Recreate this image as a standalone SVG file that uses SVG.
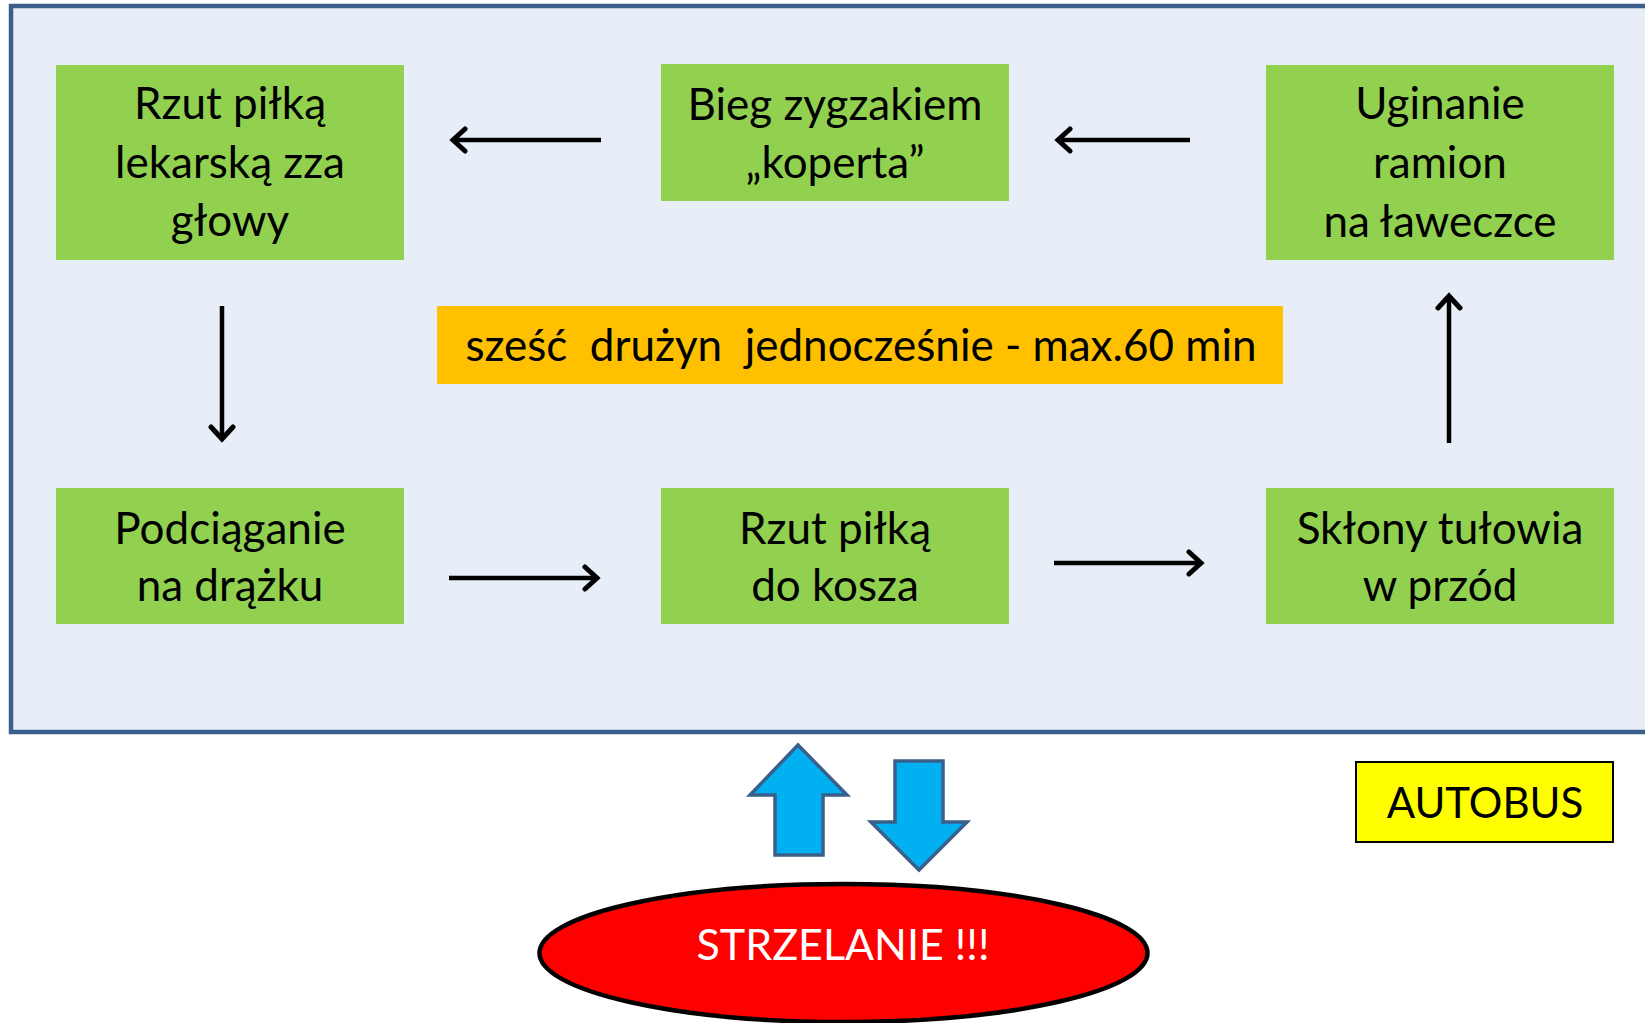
<svg xmlns="http://www.w3.org/2000/svg" width="1645" height="1023" viewBox="0 0 1645 1023">
<defs>
<style>
.box{fill:#92D050}
.t{font-family:Lato,"Liberation Sans",sans-serif;font-size:44px;fill:#000;text-anchor:middle}
.conn{stroke:#000;stroke-width:4.5;fill:none;marker-end:url(#ah)}
.blk{fill:#00B0F0;stroke:#3A5F8B;stroke-width:3.5;stroke-linejoin:miter}
</style>
<marker id="ah" markerWidth="34" markerHeight="34" refX="20" refY="14" orient="auto" markerUnits="userSpaceOnUse">
<path d="M8,3 L20,14 L8,25" fill="none" stroke="#000" stroke-width="5" stroke-linecap="round"/>
</marker>
</defs>
<rect width="1645" height="1023" fill="#fff"/>
<g id="frame">
<rect x="11" y="6" width="1660" height="726" fill="#E8EEF7" stroke="#3B5E8C" stroke-width="4.5"/>
</g>
<g id="n1">
<rect class="box" x="56" y="65" width="348" height="195"/>
<text class="t" x="230" y="119">Rzut piłką</text>
<text class="t" x="230" y="178">lekarską zza</text>
<text class="t" x="230" y="236">głowy</text>
</g>
<g id="n2">
<rect class="box" x="661" y="64" width="348" height="137"/>
<text class="t" x="835" y="120">Bieg zygzakiem</text>
<text class="t" x="835" y="178">„koperta”</text>
</g>
<g id="n3">
<rect class="box" x="1266" y="65" width="348" height="195"/>
<text class="t" x="1440" y="119">Uginanie</text>
<text class="t" x="1440" y="178">ramion</text>
<text class="t" x="1440" y="237">na ławeczce</text>
</g>
<g id="n4">
<rect class="box" x="56" y="488" width="348" height="136"/>
<text class="t" x="230" y="544">Podciąganie</text>
<text class="t" x="230" y="601">na drążku</text>
</g>
<g id="n5">
<rect class="box" x="661" y="488" width="348" height="136"/>
<text class="t" x="835" y="544">Rzut piłką</text>
<text class="t" x="835" y="601">do kosza</text>
</g>
<g id="n6">
<rect class="box" x="1266" y="488" width="348" height="136"/>
<text class="t" x="1440" y="544">Skłony tułowia</text>
<text class="t" x="1440" y="601">w przód</text>
</g>
<g id="banner">
<rect x="437" y="306" width="846" height="78" fill="#FFC000"/>
<text class="t" x="861" y="361" xml:space="preserve">sześć  drużyn  jednocześnie - max.60 min</text>
</g>
<g id="connectors">
<path class="conn" d="M601,140 L453,140"/>
<path class="conn" d="M1190,140 L1058,140"/>
<path class="conn" d="M222,306 L222,439"/>
<path class="conn" d="M449,578 L597,578"/>
<path class="conn" d="M1054,563 L1201,563"/>
<path class="conn" d="M1449,443 L1449,296"/>
<polygon class="blk" points="798,745 847,795 823,795 823,855 775,855 775,795 750,795"/>
<polygon class="blk" points="895,761 943,761 943,822 967,822 919,870 871,822 895,822"/>
</g>
<g id="autobus">
<rect x="1356" y="762" width="257" height="80" fill="#FFFF00" stroke="#000" stroke-width="2"/>
<text class="t" x="1485" y="818" style="font-size:42px">AUTOBUS</text>
</g>
<g id="strzelanie">
<ellipse cx="843.5" cy="953" rx="304" ry="69" fill="#FF0000" stroke="#000" stroke-width="4.5"/>
<text class="t" x="843" y="960" style="fill:#fff;font-size:43px">STRZELANIE !!!</text>
</g>
</svg>
